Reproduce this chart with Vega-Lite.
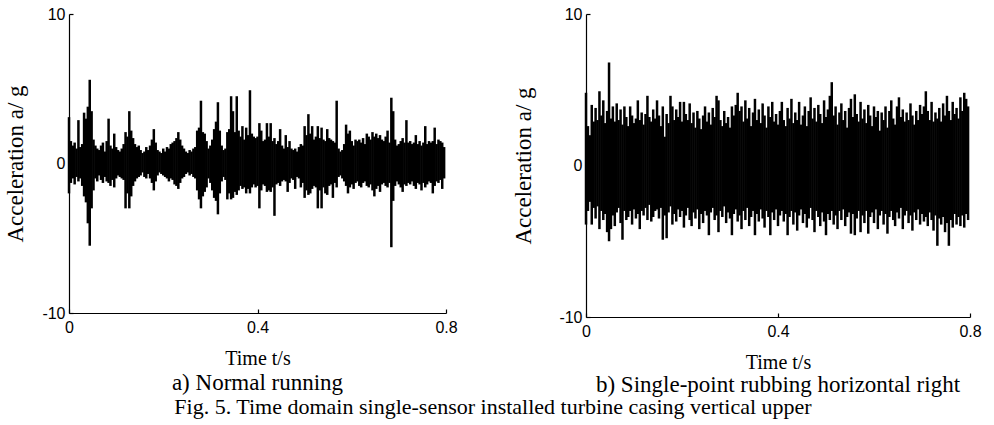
{
"$schema": "https://vega.github.io/schema/vega-lite/v6.json",
"background": "white",
"padding": {"left": 4, "top": 6, "right": 5, "bottom": 5},
"autosize": {"type": "pad"},
"config": {
  "view": {"stroke": null},
  "font": "Liberation Serif",
  "axis": {"grid": false, "domainColor": "black", "domainWidth": 1.2, "tickColor": "black", "tickSize": -4, "tickWidth": 1.2, "labelColor": "black", "labelFont": "Liberation Sans", "labelFontSize": 16, "labelFlush": false, "labelOverlap": false, "titleFont": "Liberation Serif", "titleFontWeight": "normal", "titleColor": "black", "labelExpr": "toString(datum.value)"},
  "axisX": {"labelPadding": 10, "titlePadding": 13, "titleFontSize": 20},
  "axisY": {"labelPadding": 8, "titlePadding": 14, "titleFontSize": 23}
},
"title": {"text": "Fig. 5. Time domain single-sensor installed turbine casing vertical upper", "orient": "bottom", "anchor": "middle", "font": "Liberation Serif", "fontSize": 22, "fontWeight": "normal", "color": "black", "offset": 0},
"bounds": "flush",
"spacing": 140,
"datasets": {
"normal": [
{"t":0.000,"hi":3.1,"lo":-2.0},{"t":0.004,"hi":1.5,"lo":-1.3},{"t":0.008,"hi":1.2,"lo":-1.0},{"t":0.012,"hi":1.4,"lo":-1.4},{"t":0.016,"hi":1.0,"lo":-0.9},
{"t":0.020,"hi":2.9,"lo":-1.2},{"t":0.024,"hi":1.1,"lo":-1.0},{"t":0.028,"hi":1.3,"lo":-1.5},{"t":0.032,"hi":3.4,"lo":-2.2},{"t":0.036,"hi":3.0,"lo":-2.6},
{"t":0.040,"hi":3.8,"lo":-4.0},{"t":0.044,"hi":5.6,"lo":-5.5},{"t":0.048,"hi":3.5,"lo":-3.0},{"t":0.052,"hi":1.6,"lo":-1.8},{"t":0.056,"hi":1.2,"lo":-1.0},
{"t":0.060,"hi":1.0,"lo":-1.2},{"t":0.064,"hi":0.9,"lo":-0.8},{"t":0.068,"hi":1.2,"lo":-1.1},{"t":0.072,"hi":1.4,"lo":-1.3},{"t":0.076,"hi":0.8,"lo":-0.9},
{"t":0.080,"hi":1.5,"lo":-1.2},{"t":0.084,"hi":3.0,"lo":-1.3},{"t":0.088,"hi":1.2,"lo":-1.5},{"t":0.092,"hi":1.0,"lo":-1.1},{"t":0.096,"hi":2.0,"lo":-1.6},
{"t":0.100,"hi":1.1,"lo":-1.0},{"t":0.104,"hi":0.9,"lo":-0.8},{"t":0.108,"hi":0.8,"lo":-0.9},{"t":0.112,"hi":1.0,"lo":-1.0},{"t":0.116,"hi":1.3,"lo":-1.1},
{"t":0.120,"hi":2.1,"lo":-3.0},{"t":0.124,"hi":1.8,"lo":-2.0},{"t":0.128,"hi":3.5,"lo":-3.0},{"t":0.132,"hi":2.2,"lo":-2.2},{"t":0.136,"hi":1.7,"lo":-1.5},
{"t":0.140,"hi":1.3,"lo":-1.2},{"t":0.144,"hi":1.1,"lo":-1.0},{"t":0.148,"hi":1.2,"lo":-0.9},{"t":0.152,"hi":0.9,"lo":-0.8},{"t":0.156,"hi":0.7,"lo":-0.6},
{"t":0.160,"hi":0.8,"lo":-0.9},{"t":0.164,"hi":1.1,"lo":-1.0},{"t":0.168,"hi":0.9,"lo":-0.7},{"t":0.172,"hi":1.2,"lo":-1.0},{"t":0.176,"hi":1.6,"lo":-1.3},
{"t":0.180,"hi":2.3,"lo":-1.8},{"t":0.184,"hi":1.4,"lo":-1.2},{"t":0.188,"hi":0.9,"lo":-0.8},{"t":0.192,"hi":0.8,"lo":-0.6},{"t":0.196,"hi":0.7,"lo":-0.7},
{"t":0.200,"hi":1.0,"lo":-0.8},{"t":0.204,"hi":0.8,"lo":-0.9},{"t":0.208,"hi":1.1,"lo":-1.0},{"t":0.212,"hi":1.0,"lo":-1.2},{"t":0.216,"hi":1.3,"lo":-1.0},
{"t":0.220,"hi":1.4,"lo":-1.1},{"t":0.224,"hi":1.5,"lo":-1.4},{"t":0.228,"hi":1.7,"lo":-1.5},{"t":0.232,"hi":2.1,"lo":-1.7},{"t":0.236,"hi":1.6,"lo":-1.3},
{"t":0.240,"hi":1.2,"lo":-1.0},{"t":0.244,"hi":1.0,"lo":-0.9},{"t":0.248,"hi":0.8,"lo":-0.7},{"t":0.252,"hi":0.7,"lo":-0.6},{"t":0.256,"hi":0.9,"lo":-0.8},
{"t":0.260,"hi":0.8,"lo":-0.7},{"t":0.264,"hi":1.0,"lo":-0.9},{"t":0.268,"hi":1.1,"lo":-1.0},{"t":0.272,"hi":2.2,"lo":-1.8},{"t":0.276,"hi":2.4,"lo":-2.4},
{"t":0.280,"hi":4.2,"lo":-3.0},{"t":0.284,"hi":2.1,"lo":-2.2},{"t":0.288,"hi":2.0,"lo":-1.9},{"t":0.292,"hi":1.5,"lo":-1.6},{"t":0.296,"hi":1.0,"lo":-1.0},
{"t":0.300,"hi":1.2,"lo":-1.3},{"t":0.304,"hi":1.6,"lo":-1.8},{"t":0.308,"hi":2.3,"lo":-2.3},{"t":0.312,"hi":2.8,"lo":-2.5},{"t":0.316,"hi":4.1,"lo":-3.4},
{"t":0.320,"hi":2.2,"lo":-2.0},{"t":0.324,"hi":1.2,"lo":-1.2},{"t":0.328,"hi":0.9,"lo":-0.9},{"t":0.332,"hi":1.0,"lo":-1.1},{"t":0.336,"hi":2.1,"lo":-2.4},
{"t":0.340,"hi":2.3,"lo":-2.0},{"t":0.344,"hi":4.5,"lo":-2.4},{"t":0.348,"hi":3.5,"lo":-2.3},{"t":0.352,"hi":2.1,"lo":-1.9},{"t":0.356,"hi":4.5,"lo":-2.1},
{"t":0.360,"hi":2.2,"lo":-1.8},{"t":0.364,"hi":1.8,"lo":-1.5},{"t":0.368,"hi":2.5,"lo":-1.7},{"t":0.372,"hi":1.6,"lo":-1.6},{"t":0.376,"hi":2.4,"lo":-2.0},
{"t":0.380,"hi":1.9,"lo":-1.7},{"t":0.384,"hi":4.9,"lo":-2.0},{"t":0.388,"hi":2.0,"lo":-1.6},{"t":0.392,"hi":1.8,"lo":-1.4},{"t":0.396,"hi":1.7,"lo":-1.6},
{"t":0.400,"hi":1.8,"lo":-1.5},{"t":0.404,"hi":2.7,"lo":-3.0},{"t":0.408,"hi":2.2,"lo":-1.8},{"t":0.412,"hi":1.5,"lo":-1.4},{"t":0.416,"hi":1.6,"lo":-1.5},
{"t":0.420,"hi":2.7,"lo":-1.9},{"t":0.424,"hi":1.8,"lo":-1.8},{"t":0.428,"hi":2.7,"lo":-1.9},{"t":0.432,"hi":1.5,"lo":-1.6},{"t":0.436,"hi":1.7,"lo":-3.5},
{"t":0.440,"hi":1.3,"lo":-1.4},{"t":0.444,"hi":1.5,"lo":-1.3},{"t":0.448,"hi":2.3,"lo":-1.5},{"t":0.452,"hi":1.2,"lo":-1.2},{"t":0.456,"hi":1.0,"lo":-1.1},
{"t":0.460,"hi":1.9,"lo":-1.2},{"t":0.464,"hi":1.1,"lo":-1.9},{"t":0.468,"hi":1.5,"lo":-1.3},{"t":0.472,"hi":1.0,"lo":-1.0},{"t":0.476,"hi":0.9,"lo":-1.1},
{"t":0.480,"hi":1.0,"lo":-1.7},{"t":0.484,"hi":0.8,"lo":-0.9},{"t":0.488,"hi":1.1,"lo":-1.0},{"t":0.492,"hi":1.3,"lo":-1.6},{"t":0.496,"hi":1.2,"lo":-1.3},
{"t":0.500,"hi":2.5,"lo":-2.3},{"t":0.504,"hi":1.9,"lo":-1.8},{"t":0.508,"hi":3.3,"lo":-2.1},{"t":0.512,"hi":2.0,"lo":-2.0},{"t":0.516,"hi":2.5,"lo":-1.7},
{"t":0.520,"hi":1.6,"lo":-1.5},{"t":0.524,"hi":1.8,"lo":-1.6},{"t":0.528,"hi":2.5,"lo":-3.0},{"t":0.532,"hi":1.7,"lo":-1.8},{"t":0.536,"hi":2.4,"lo":-3.0},
{"t":0.540,"hi":1.6,"lo":-1.6},{"t":0.544,"hi":1.5,"lo":-2.0},{"t":0.548,"hi":2.3,"lo":-2.1},{"t":0.552,"hi":1.7,"lo":-1.5},{"t":0.556,"hi":1.6,"lo":-1.4},
{"t":0.560,"hi":1.5,"lo":-2.3},{"t":0.564,"hi":1.4,"lo":-1.3},{"t":0.568,"hi":4.2,"lo":-1.6},{"t":0.572,"hi":1.0,"lo":-0.9},{"t":0.576,"hi":0.8,"lo":-0.8},
{"t":0.580,"hi":0.9,"lo":-1.0},{"t":0.584,"hi":1.3,"lo":-1.2},{"t":0.588,"hi":2.6,"lo":-1.5},{"t":0.592,"hi":2.0,"lo":-2.0},{"t":0.596,"hi":2.2,"lo":-1.6},
{"t":0.600,"hi":1.5,"lo":-1.4},{"t":0.604,"hi":1.2,"lo":-1.7},{"t":0.608,"hi":1.6,"lo":-1.3},{"t":0.612,"hi":1.5,"lo":-1.2},{"t":0.616,"hi":1.6,"lo":-1.5},
{"t":0.620,"hi":1.4,"lo":-1.6},{"t":0.624,"hi":1.7,"lo":-1.3},{"t":0.628,"hi":1.3,"lo":-1.2},{"t":0.632,"hi":2.0,"lo":-1.5},{"t":0.636,"hi":1.8,"lo":-1.6},
{"t":0.640,"hi":1.6,"lo":-1.4},{"t":0.644,"hi":2.1,"lo":-1.8},{"t":0.648,"hi":1.8,"lo":-2.2},{"t":0.652,"hi":2.0,"lo":-1.7},{"t":0.656,"hi":1.7,"lo":-1.5},
{"t":0.660,"hi":1.9,"lo":-1.9},{"t":0.664,"hi":1.6,"lo":-1.4},{"t":0.668,"hi":1.5,"lo":-1.3},{"t":0.672,"hi":1.8,"lo":-1.5},{"t":0.676,"hi":2.2,"lo":-1.6},
{"t":0.680,"hi":1.4,"lo":-1.3},{"t":0.684,"hi":4.4,"lo":-5.6},{"t":0.688,"hi":3.5,"lo":-2.5},{"t":0.692,"hi":1.6,"lo":-1.5},{"t":0.696,"hi":1.2,"lo":-1.2},
{"t":0.700,"hi":1.3,"lo":-1.4},{"t":0.704,"hi":1.5,"lo":-1.6},{"t":0.708,"hi":1.7,"lo":-1.9},{"t":0.712,"hi":1.4,"lo":-1.4},{"t":0.716,"hi":2.9,"lo":-1.5},
{"t":0.720,"hi":1.4,"lo":-1.3},{"t":0.724,"hi":1.5,"lo":-1.4},{"t":0.728,"hi":1.3,"lo":-1.2},{"t":0.732,"hi":1.4,"lo":-1.5},{"t":0.736,"hi":1.9,"lo":-1.7},
{"t":0.740,"hi":1.3,"lo":-1.3},{"t":0.744,"hi":1.5,"lo":-1.4},{"t":0.748,"hi":1.2,"lo":-1.8},{"t":0.752,"hi":1.4,"lo":-1.3},{"t":0.756,"hi":2.5,"lo":-1.6},
{"t":0.760,"hi":1.3,"lo":-1.4},{"t":0.764,"hi":1.5,"lo":-1.2},{"t":0.768,"hi":1.4,"lo":-1.3},{"t":0.772,"hi":1.5,"lo":-2.0},{"t":0.776,"hi":2.4,"lo":-1.5},
{"t":0.780,"hi":1.3,"lo":-1.2},{"t":0.784,"hi":1.6,"lo":-1.3},{"t":0.788,"hi":1.5,"lo":-1.1},{"t":0.792,"hi":1.4,"lo":-1.7},{"t":0.796,"hi":1.1,"lo":-1.0}
],
"rubbing": [
{"t":0.000,"hi":4.8,"lo":-3.9},{"t":0.004,"hi":2.6,"lo":-3.0},{"t":0.008,"hi":2.0,"lo":-2.4},{"t":0.012,"hi":4.0,"lo":-3.9},{"t":0.016,"hi":2.9,"lo":-2.8},
{"t":0.020,"hi":3.8,"lo":-3.5},{"t":0.024,"hi":3.0,"lo":-2.7},{"t":0.028,"hi":4.9,"lo":-4.2},{"t":0.032,"hi":3.3,"lo":-3.0},{"t":0.036,"hi":4.3,"lo":-3.6},
{"t":0.040,"hi":2.8,"lo":-3.2},{"t":0.044,"hi":3.6,"lo":-4.4},{"t":0.048,"hi":6.8,"lo":-5.0},{"t":0.052,"hi":3.1,"lo":-4.2},{"t":0.056,"hi":3.9,"lo":-3.3},
{"t":0.060,"hi":2.9,"lo":-4.0},{"t":0.064,"hi":4.1,"lo":-3.1},{"t":0.068,"hi":3.0,"lo":-2.8},{"t":0.072,"hi":3.7,"lo":-3.8},{"t":0.076,"hi":2.7,"lo":-4.9},
{"t":0.080,"hi":3.9,"lo":-3.0},{"t":0.084,"hi":3.2,"lo":-3.6},{"t":0.088,"hi":2.6,"lo":-3.4},{"t":0.092,"hi":3.9,"lo":-3.0},{"t":0.096,"hi":3.3,"lo":-3.9},
{"t":0.100,"hi":2.8,"lo":-2.9},{"t":0.104,"hi":3.1,"lo":-3.5},{"t":0.108,"hi":4.3,"lo":-3.2},{"t":0.112,"hi":3.0,"lo":-4.2},{"t":0.116,"hi":3.5,"lo":-3.0},
{"t":0.120,"hi":2.7,"lo":-3.3},{"t":0.124,"hi":3.4,"lo":-2.8},{"t":0.128,"hi":4.6,"lo":-3.6},{"t":0.132,"hi":3.2,"lo":-2.6},{"t":0.136,"hi":2.9,"lo":-3.7},
{"t":0.140,"hi":3.7,"lo":-3.4},{"t":0.144,"hi":3.1,"lo":-3.0},{"t":0.148,"hi":4.3,"lo":-2.9},{"t":0.152,"hi":3.3,"lo":-3.5},{"t":0.156,"hi":2.6,"lo":-2.8},
{"t":0.160,"hi":3.9,"lo":-4.9},{"t":0.164,"hi":1.9,"lo":-3.3},{"t":0.168,"hi":3.4,"lo":-4.8},{"t":0.172,"hi":2.8,"lo":-3.1},{"t":0.176,"hi":4.6,"lo":-2.7},
{"t":0.180,"hi":3.9,"lo":-3.9},{"t":0.184,"hi":3.0,"lo":-3.2},{"t":0.188,"hi":3.7,"lo":-3.7},{"t":0.192,"hi":3.2,"lo":-2.9},{"t":0.196,"hi":4.2,"lo":-3.4},
{"t":0.200,"hi":2.9,"lo":-3.0},{"t":0.204,"hi":4.2,"lo":-4.1},{"t":0.208,"hi":3.4,"lo":-3.3},{"t":0.212,"hi":3.0,"lo":-2.8},{"t":0.216,"hi":4.1,"lo":-3.6},
{"t":0.220,"hi":2.8,"lo":-4.0},{"t":0.224,"hi":3.5,"lo":-3.1},{"t":0.228,"hi":2.5,"lo":-3.5},{"t":0.232,"hi":3.6,"lo":-2.9},{"t":0.236,"hi":3.1,"lo":-4.2},
{"t":0.240,"hi":2.4,"lo":-3.2},{"t":0.244,"hi":3.3,"lo":-3.8},{"t":0.248,"hi":3.9,"lo":-3.0},{"t":0.252,"hi":2.9,"lo":-3.3},{"t":0.256,"hi":3.5,"lo":-4.6},
{"t":0.260,"hi":2.7,"lo":-3.1},{"t":0.264,"hi":3.8,"lo":-2.8},{"t":0.268,"hi":3.2,"lo":-3.6},{"t":0.272,"hi":4.6,"lo":-3.3},{"t":0.276,"hi":4.3,"lo":-4.4},
{"t":0.280,"hi":3.0,"lo":-3.0},{"t":0.284,"hi":2.6,"lo":-3.4},{"t":0.288,"hi":3.6,"lo":-2.7},{"t":0.292,"hi":2.8,"lo":-3.8},{"t":0.296,"hi":3.2,"lo":-3.1},
{"t":0.300,"hi":2.5,"lo":-3.5},{"t":0.304,"hi":3.9,"lo":-4.6},{"t":0.308,"hi":3.3,"lo":-3.2},{"t":0.312,"hi":4.0,"lo":-2.9},{"t":0.316,"hi":4.8,"lo":-3.7},
{"t":0.320,"hi":3.6,"lo":-3.3},{"t":0.324,"hi":3.9,"lo":-4.2},{"t":0.328,"hi":2.9,"lo":-3.0},{"t":0.332,"hi":4.3,"lo":-3.6},{"t":0.336,"hi":3.1,"lo":-2.8},
{"t":0.340,"hi":3.8,"lo":-4.0},{"t":0.344,"hi":2.6,"lo":-3.4},{"t":0.348,"hi":3.5,"lo":-3.0},{"t":0.352,"hi":4.4,"lo":-4.6},{"t":0.356,"hi":3.0,"lo":-3.2},
{"t":0.360,"hi":3.7,"lo":-3.7},{"t":0.364,"hi":2.8,"lo":-2.9},{"t":0.368,"hi":4.1,"lo":-3.5},{"t":0.372,"hi":3.3,"lo":-4.1},{"t":0.376,"hi":2.5,"lo":-3.0},
{"t":0.380,"hi":3.9,"lo":-3.4},{"t":0.384,"hi":3.2,"lo":-4.6},{"t":0.388,"hi":4.2,"lo":-3.1},{"t":0.392,"hi":2.9,"lo":-3.6},{"t":0.396,"hi":3.4,"lo":-2.9},
{"t":0.400,"hi":2.7,"lo":-4.0},{"t":0.404,"hi":3.6,"lo":-3.3},{"t":0.408,"hi":4.2,"lo":-3.0},{"t":0.412,"hi":3.0,"lo":-3.7},{"t":0.416,"hi":2.6,"lo":-3.2},
{"t":0.420,"hi":3.8,"lo":-4.6},{"t":0.424,"hi":3.1,"lo":-3.4},{"t":0.428,"hi":4.4,"lo":-3.0},{"t":0.432,"hi":2.8,"lo":-3.9},{"t":0.436,"hi":3.5,"lo":-3.1},
{"t":0.440,"hi":3.0,"lo":-4.3},{"t":0.444,"hi":4.2,"lo":-3.3},{"t":0.448,"hi":2.7,"lo":-2.9},{"t":0.452,"hi":3.3,"lo":-3.8},{"t":0.456,"hi":3.9,"lo":-3.2},
{"t":0.460,"hi":2.6,"lo":-4.1},{"t":0.464,"hi":3.6,"lo":-3.5},{"t":0.468,"hi":4.5,"lo":-2.8},{"t":0.472,"hi":3.1,"lo":-3.6},{"t":0.476,"hi":3.8,"lo":-4.4},
{"t":0.480,"hi":2.9,"lo":-3.0},{"t":0.484,"hi":4.0,"lo":-3.4},{"t":0.488,"hi":3.4,"lo":-4.0},{"t":0.492,"hi":2.8,"lo":-3.1},{"t":0.496,"hi":4.3,"lo":-3.7},
{"t":0.500,"hi":3.2,"lo":-4.6},{"t":0.504,"hi":3.7,"lo":-3.2},{"t":0.508,"hi":4.6,"lo":-3.6},{"t":0.512,"hi":5.5,"lo":-3.0},{"t":0.516,"hi":3.3,"lo":-3.9},
{"t":0.520,"hi":3.9,"lo":-3.3},{"t":0.524,"hi":2.7,"lo":-4.2},{"t":0.528,"hi":3.5,"lo":-3.0},{"t":0.532,"hi":4.1,"lo":-3.6},{"t":0.536,"hi":3.0,"lo":-2.9},
{"t":0.540,"hi":3.6,"lo":-4.0},{"t":0.544,"hi":2.5,"lo":-3.4},{"t":0.548,"hi":3.8,"lo":-3.1},{"t":0.552,"hi":4.4,"lo":-4.5},{"t":0.556,"hi":3.2,"lo":-3.2},
{"t":0.560,"hi":4.7,"lo":-4.6},{"t":0.564,"hi":3.4,"lo":-3.5},{"t":0.568,"hi":2.9,"lo":-3.0},{"t":0.572,"hi":4.2,"lo":-4.4},{"t":0.576,"hi":3.1,"lo":-3.3},
{"t":0.580,"hi":3.7,"lo":-3.8},{"t":0.584,"hi":2.8,"lo":-3.0},{"t":0.588,"hi":4.0,"lo":-4.5},{"t":0.592,"hi":3.3,"lo":-3.4},{"t":0.596,"hi":2.6,"lo":-3.1},
{"t":0.600,"hi":3.9,"lo":-3.8},{"t":0.604,"hi":3.2,"lo":-2.9},{"t":0.608,"hi":3.6,"lo":-4.2},{"t":0.612,"hi":2.3,"lo":-3.3},{"t":0.616,"hi":3.5,"lo":-3.0},
{"t":0.620,"hi":3.0,"lo":-3.9},{"t":0.624,"hi":3.9,"lo":-3.2},{"t":0.628,"hi":2.5,"lo":-4.5},{"t":0.632,"hi":3.6,"lo":-3.4},{"t":0.636,"hi":4.3,"lo":-3.0},
{"t":0.640,"hi":3.1,"lo":-3.6},{"t":0.644,"hi":2.7,"lo":-4.0},{"t":0.648,"hi":3.9,"lo":-3.1},{"t":0.652,"hi":4.5,"lo":-3.5},{"t":0.656,"hi":3.2,"lo":-2.8},
{"t":0.660,"hi":3.7,"lo":-4.2},{"t":0.664,"hi":2.9,"lo":-3.3},{"t":0.668,"hi":3.5,"lo":-3.0},{"t":0.672,"hi":3.0,"lo":-3.8},{"t":0.676,"hi":4.1,"lo":-3.3},
{"t":0.680,"hi":3.3,"lo":-4.3},{"t":0.684,"hi":2.7,"lo":-3.1},{"t":0.688,"hi":3.6,"lo":-3.6},{"t":0.692,"hi":3.0,"lo":-2.9},{"t":0.696,"hi":4.0,"lo":-3.9},
{"t":0.700,"hi":3.4,"lo":-3.2},{"t":0.704,"hi":3.9,"lo":-3.7},{"t":0.708,"hi":4.9,"lo":-3.4},{"t":0.712,"hi":3.6,"lo":-4.0},{"t":0.716,"hi":3.0,"lo":-3.1},
{"t":0.720,"hi":4.2,"lo":-3.6},{"t":0.724,"hi":2.9,"lo":-4.3},{"t":0.728,"hi":3.5,"lo":-3.3},{"t":0.732,"hi":3.1,"lo":-5.3},{"t":0.736,"hi":3.8,"lo":-3.5},
{"t":0.740,"hi":2.9,"lo":-3.9},{"t":0.744,"hi":4.1,"lo":-3.4},{"t":0.748,"hi":3.3,"lo":-4.4},{"t":0.752,"hi":4.6,"lo":-3.8},{"t":0.756,"hi":3.6,"lo":-5.3},
{"t":0.760,"hi":3.0,"lo":-3.6},{"t":0.764,"hi":4.2,"lo":-4.1},{"t":0.768,"hi":3.4,"lo":-3.2},{"t":0.772,"hi":3.8,"lo":-3.9},{"t":0.776,"hi":3.1,"lo":-3.4},
{"t":0.780,"hi":4.5,"lo":-4.0},{"t":0.784,"hi":3.6,"lo":-3.3},{"t":0.788,"hi":4.8,"lo":-4.1},{"t":0.792,"hi":4.4,"lo":-3.2},{"t":0.796,"hi":3.9,"lo":-3.6}
]
},
"hconcat": [
{
  "data": {"name": "normal"},
  "width": 377, "height": 299,
  "title": {"text": "a) Normal running", "orient": "bottom", "anchor": "middle", "font": "Liberation Serif", "fontSize": 23, "fontWeight": "normal", "color": "black", "offset": 4},
  "mark": {"type": "rule", "strokeWidth": 2.5, "color": "black"},
  "encoding": {
    "x": {"field": "t", "type": "quantitative", "scale": {"domain": [0, 0.8], "nice": false}, "axis": {"values": [0, 0.4, 0.8], "title": "Time t/s"}},
    "y": {"field": "hi", "type": "quantitative", "scale": {"domain": [-10, 10], "nice": false}, "axis": {"values": [-10, 0, 10], "title": "Acceleration a/ g"}},
    "y2": {"field": "lo"}
  }
},
{
  "data": {"name": "rubbing"},
  "width": 384, "height": 303,
  "title": {"text": "b) Single-point rubbing horizontal right", "orient": "bottom", "anchor": "middle", "font": "Liberation Serif", "fontSize": 23, "fontWeight": "normal", "color": "black", "offset": 2},
  "mark": {"type": "rule", "strokeWidth": 2.5, "color": "black"},
  "encoding": {
    "x": {"field": "t", "type": "quantitative", "scale": {"domain": [0, 0.8], "nice": false}, "axis": {"values": [0, 0.4, 0.8], "title": "Time t/s"}},
    "y": {"field": "hi", "type": "quantitative", "scale": {"domain": [-10, 10], "nice": false}, "axis": {"values": [-10, 0, 10], "title": "Acceleration a/ g", "titlePadding": 23}},
    "y2": {"field": "lo"}
  }
}
]
}
